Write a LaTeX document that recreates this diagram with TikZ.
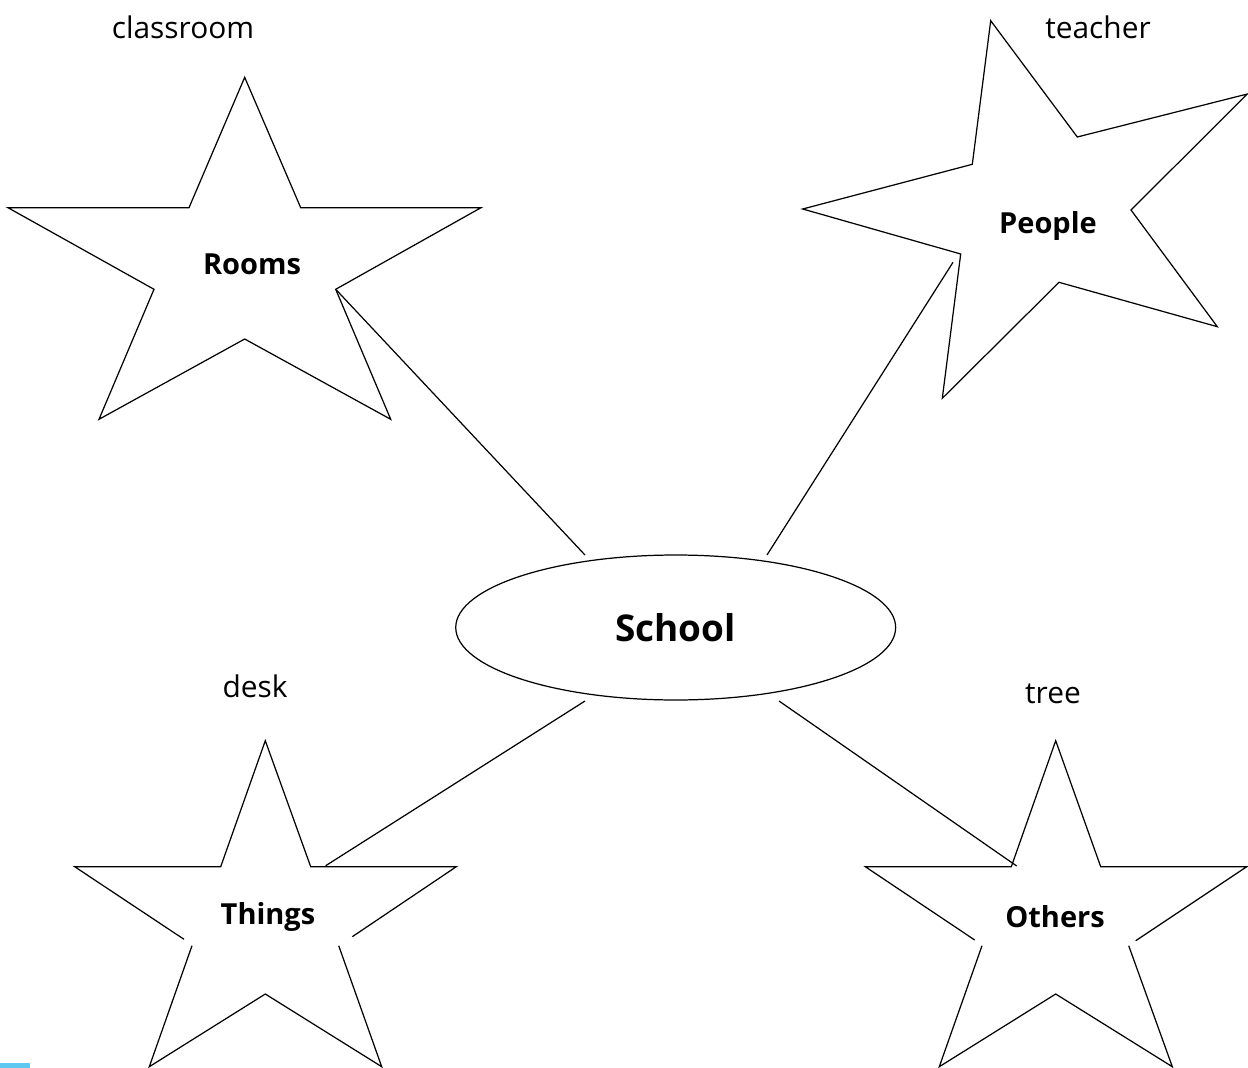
\documentclass[tikz,border=0pt]{standalone}
\usepackage{fontspec}
\setmainfont{Open Sans}
\usepackage{tikz}
\usetikzlibrary{shapes.geometric}
\definecolor{barblue}{RGB}{95,200,240}

\begin{document}
\begin{tikzpicture}
  [x=0.02cm,y=-0.02cm,
   star line/.style={line width=0.7pt,line join=miter},
   link/.style={line width=0.7pt},
   key word/.style={font=\fontsize{16.5}{18}\selectfont\bfseries},
   example word/.style={font=\fontsize{17}{19}\selectfont},
   topic node/.style={ellipse,draw,line width=0.7pt,inner sep=0pt,
     minimum width=8.8cm,minimum height=2.9cm,font=\fontsize{21}{24}\selectfont\bfseries}]

\useasboundingbox (0,0) rectangle (1248,1068);

% centre
\node[topic node] (school) at (675.7,627.5) {School};

% stars
\draw[star line] (244.7,77.3) -- (300.7,207.7) -- (481,207.7) -- (335.7,289.3) coordinate (rooms in)
  -- (390.7,419.3) -- (244.7,339) -- (99,419.3) -- (154,289.3) -- (8,207.7) -- (189,207.7) -- cycle;
\draw[star line] (990.7,20.7) -- (1077.3,137) -- (1247.3,94) -- (1131,210) -- (1217.3,326.7)
  -- (1059,282.3) -- (942.3,398.3) -- (960.7,254) -- (802.7,209) -- (972.3,164.3) -- cycle;
\draw[star line] (184,939.3) -- (74.7,866.7) -- (220.7,866.7) -- (265.3,740.7) -- (310.7,866.7)
  -- (456.3,866.7) -- (352.3,936.7);
\draw[star line] (192,945.7) -- (149.3,1066.7) -- (265.3,994) -- (381.7,1066.7) -- (338.7,945.7);
\draw[star line] (974.7,940) -- (865.3,866.7) -- (1011.3,866.7) -- (1055.7,740.7) -- (1100.7,866.7)
  -- (1246.7,866.7) -- (1135.7,940.7);
\draw[star line] (982,945.7) -- (939.3,1066.7) -- (1055.7,994) -- (1172.3,1066.7) -- (1128.7,945.7);

% star labels
\node[key word] (rooms) at (252,264) {Rooms};
\node[key word] (people) at (1048,226) {People};
\node[key word] (things) at (268,917) {Things};
\node[key word] (others) at (1055,917) {Others};

\node[example word] (classroom) at (183,27) {classroom};
\node[example word] (teacher) at (1098,27) {teacher};
\node[example word] (desk) at (255,686) {desk};
\node[example word] (tree) at (1053,694) {tree};

% link ends
\coordinate (rooms link) at (585,555);
\coordinate (people link) at (767,555);
\coordinate (things link) at (585,701);
\coordinate (others link) at (779,701);
\coordinate (people in) at (953,262.3);
\coordinate (things in) at (325.7,865.7);
\coordinate (others in) at (1016.7,866);

\path
  (rooms in) edge [link] (rooms link)
  (people in) edge [link] (people link)
  (things in) edge [link] (things link)
  (others in) edge [link] (others link);

\fill[barblue] (0,1063) rectangle (30,1068);

\end{tikzpicture}
\end{document}
